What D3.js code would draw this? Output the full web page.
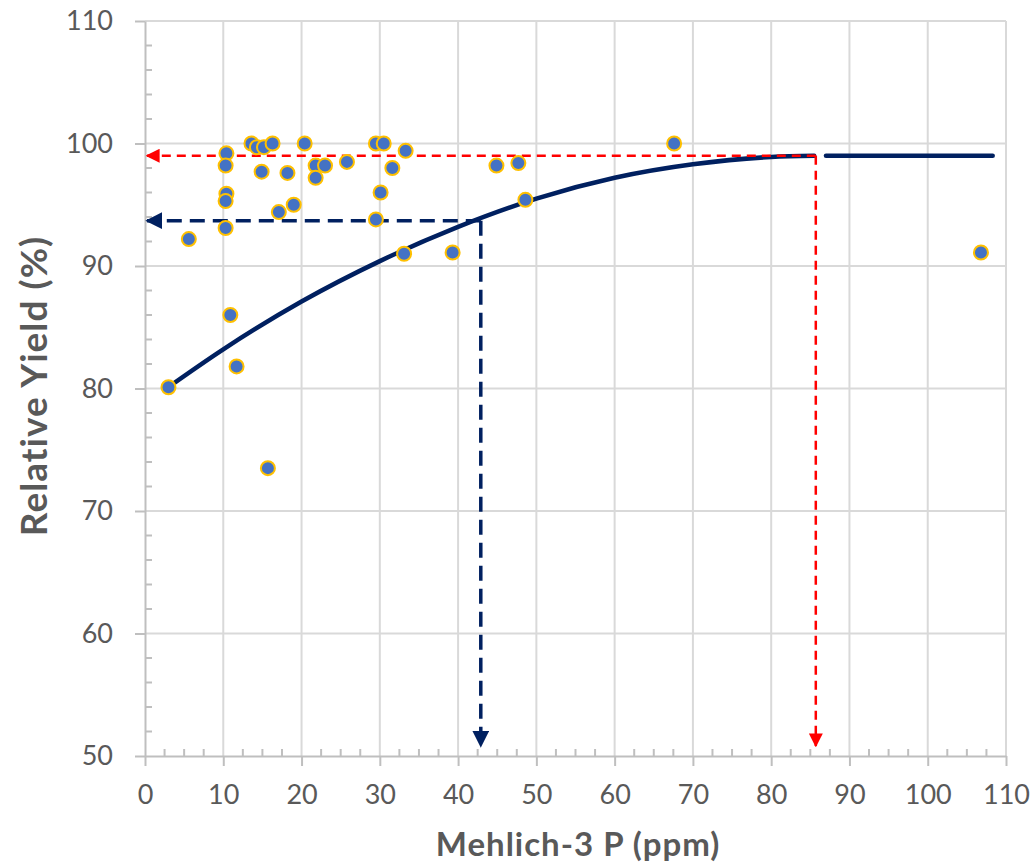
<!DOCTYPE html>
<html>
<head>
<meta charset="utf-8">
<script src="https://cdn.jsdelivr.net/npm/d3@7"></script>
<style>
  body { margin: 0; background: #fff; }
  text { font-family: Lato, "Open Sans", sans-serif; }
</style>
</head>
<body>
<div id="chart"></div>
<script>
// Observed soil test P vs relative yield
const soilP = [3.0, 5.6, 10.4, 10.3, 10.4, 10.3, 10.3, 10.9, 11.7, 15.7,
  13.6, 14.3, 15.2, 16.3, 14.9, 17.1, 19.0, 18.2, 20.4, 21.8,
  23.0, 21.8, 25.8, 29.5, 30.5, 29.5, 30.1, 31.6, 33.3, 33.1,
  39.3, 44.9, 47.7, 48.6, 67.6, 106.8];
const relYield = [80.1, 92.2, 99.2, 98.2, 95.9, 95.3, 93.1, 86.0, 81.8, 73.5,
  100.0, 99.7, 99.7, 100.0, 97.7, 94.4, 95.0, 97.6, 100.0, 98.2,
  98.2, 97.2, 98.5, 100.0, 100.0, 93.8, 96.0, 98.0, 99.4, 91.0,
  91.1, 98.2, 98.4, 95.4, 100.0, 91.1];

// Quadratic-plateau fit
const fitX = [2.5, 10, 20, 30, 40, 50, 60, 70, 80, 85.5];
const fitY = [79.9, 83.2, 87.1, 90.4, 93.2, 95.5, 97.2, 98.3, 98.9, 99.0];
const plateauX = [87, 108.3];
const plateauY = [99.0, 99.0];

// Critical values
const critRed = { x: 85.7, y: 99.0 };
const critNavy = { x: 42.9, y: 93.7 };

const xTicks = d3.range(0, 111, 10);
const yTicks = d3.range(50, 111, 10);

const W = 1033, H = 866;
const M = { left: 145, right: 27, top: 21, bottom: 110 };

const COLORS = {
  axis: '#bfbfbf',
  grid: '#d9d9d9',
  text: '#595959',
  point: '#4472c4',
  pointStroke: '#ffc000',
  fit: '#002060',
  red: '#ff0000'
};

const svg = d3.select('#chart').append('svg')
  .attr('width', W)
  .attr('height', H);

const x = d3.scaleLinear().domain([0, 110]).range([M.left, W - M.right]);
const y = d3.scaleLinear().domain([50, 110]).range([H - M.bottom, M.top]);

// Gridlines
svg.append('g').selectAll('line')
    .data(xTicks.slice(1))
  .enter().append('line')
    .attr('x1', d => x(d)).attr('x2', d => x(d))
    .attr('y1', y(50)).attr('y2', y(110))
    .style('stroke', COLORS.grid).style('stroke-width', 2);
svg.append('g').selectAll('line')
    .data(yTicks.slice(1))
  .enter().append('line')
    .attr('x1', x(0)).attr('x2', x(110))
    .attr('y1', d => y(d)).attr('y2', d => y(d))
    .style('stroke', COLORS.grid).style('stroke-width', 2);

// Minor ticks (inside)
svg.append('g').selectAll('line')
    .data(d3.range(0, 110.1, 2.5).filter(d => d % 10 !== 0))
  .enter().append('line')
    .attr('x1', d => x(d)).attr('x2', d => x(d))
    .attr('y1', y(50)).attr('y2', y(50) - 7)
    .style('stroke', COLORS.axis).style('stroke-width', 2);
svg.append('g').selectAll('line')
    .data(d3.range(50, 110.1, 2).filter(d => d % 10 !== 0))
  .enter().append('line')
    .attr('x1', x(0)).attr('x2', x(0) + 7)
    .attr('y1', d => y(d)).attr('y2', d => y(d))
    .style('stroke', COLORS.axis).style('stroke-width', 2);

// Axes
const xAxis = svg.append('g')
  .attr('transform', `translate(0,${y(50)})`)
  .call(d3.axisBottom(x).tickValues(xTicks).tickSize(10).tickPadding(22).tickSizeOuter(0));
const yAxis = svg.append('g')
  .attr('transform', `translate(${x(0)},0)`)
  .call(d3.axisLeft(y).tickValues(yTicks).tickSize(10).tickPadding(22).tickSizeOuter(0));

for (let ax of [xAxis, yAxis]) {
  ax.select('.domain').style('stroke', COLORS.axis).style('stroke-width', 2);
  ax.selectAll('.tick line').style('stroke', COLORS.axis).style('stroke-width', 2);
  ax.selectAll('.tick text')
    .style('fill', COLORS.text)
    .style('font-size', '27px')
    .style('font-family', 'Lato, sans-serif');
}
xAxis.selectAll('.tick text').attr('dy', '0.6em');

// Axis titles
svg.append('text')
  .text('Mehlich-3 P (ppm)')
  .attr('x', 578)
  .attr('y', 856)
  .attr('text-anchor', 'middle')
  .style('font-size', '33px')
  .style('letter-spacing', '1px')
  .style('font-weight', 'bold')
  .style('fill', COLORS.text);
svg.append('text')
  .text('Relative Yield (%)')
  .attr('transform', `translate(47,386) rotate(-90)`)
  .attr('text-anchor', 'middle')
  .style('font-size', '37px')
  .style('letter-spacing', '1px')
  .style('font-weight', 'bold')
  .style('fill', COLORS.text);

// Arrow markers
const defs = svg.append('defs');
function marker(id, color, size) {
  defs.append('marker')
    .attr('id', id)
    .attr('viewBox', '0 0 10 10')
    .attr('refX', 9).attr('refY', 5)
    .attr('markerUnits', 'userSpaceOnUse')
    .attr('markerWidth', size).attr('markerHeight', size)
    .attr('orient', 'auto')
    .append('path')
    .attr('d', 'M0,0L10,5L0,10Z')
    .style('fill', color);
}
marker('arrNavy', COLORS.fit, 17);
marker('arrRed', COLORS.red, 14);

// Critical-level dashed guides
function guides(c, color, width, dash, mk) {
  svg.append('line')
    .attr('x1', x(c.x)).attr('y1', y(c.y))
    .attr('x2', x(0) + 2).attr('y2', y(c.y))
    .style('stroke', color).style('stroke-width', width)
    .style('stroke-dasharray', dash)
    .attr('marker-end', `url(#${mk})`);
  svg.append('line')
    .attr('x1', x(c.x)).attr('y1', y(c.y))
    .attr('x2', x(c.x)).attr('y2', y(50) - 10)
    .style('stroke', color).style('stroke-width', width)
    .style('stroke-dasharray', dash)
    .attr('marker-end', `url(#${mk})`);
}

// Fit curve and plateau
const line = d3.line().x(d => x(d[0])).y(d => y(d[1])).curve(d3.curveMonotoneX);
svg.append('path')
  .datum(d3.zip(fitX, fitY))
  .attr('d', line)
  .style('fill', 'none')
  .style('stroke', COLORS.fit)
  .style('stroke-width', 4.5)
  .style('stroke-linecap', 'round');
svg.append('path')
  .datum(d3.zip(plateauX, plateauY))
  .attr('d', line)
  .style('fill', 'none')
  .style('stroke', COLORS.fit)
  .style('stroke-width', 4.5)
  .style('stroke-linecap', 'round');

guides(critRed, COLORS.red, 2.5, '9,6', 'arrRed');
guides(critNavy, COLORS.fit, 3.5, '15,8', 'arrNavy');

// Points
svg.append('g').selectAll('circle')
    .data(d3.zip(soilP, relYield))
  .enter().append('circle')
    .attr('cx', d => x(d[0]))
    .attr('cy', d => y(d[1]))
    .attr('r', 7)
    .style('fill', COLORS.point)
    .style('stroke', COLORS.pointStroke)
    .style('stroke-width', 2);
</script>
</body>
</html>
